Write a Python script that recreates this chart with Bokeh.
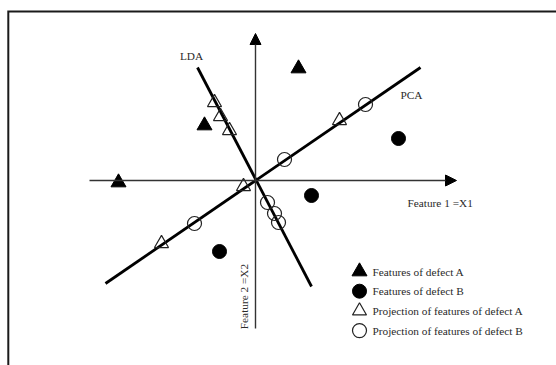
from bokeh.plotting import figure
from bokeh.models import Range1d, Arrow, NormalHead
from bokeh.core.properties import value
from bokeh.embed import file_html
from bokeh.resources import INLINE
import math

# ---- data (schematic feature space, origin at axes crossing) ----
featA_x = [4.3, -5.1, -13.7]
featA_y = [11.2, 5.5, -0.2]
featB_x = [14.3, 5.6, -3.6]
featB_y = [4.2, -1.5, -7.1]
projA_x = [-4.1, -3.5, -2.6, 8.4, -1.2, -9.4]
projA_y = [7.8, 6.4, 5.0, 6.0, -0.6, -6.3]
projB_x = [11.0, 2.9, -6.1, 1.2, 1.9, 2.3]
projB_y = [7.6, 2.1, -4.3, -2.2, -3.3, -4.2]
lda_x = [-5.8, 5.6]
lda_y = [11.3, -10.6]
pca_x = [-15.0, 16.5]
pca_y = [-10.3, 11.3]
legend_labels = ["Features of defect A", "Features of defect B",
                 "Projection of features of defect A", "Projection of features of defect B"]

SERIF = value("Liberation Serif")
TXT = "#2a2a2a"
FS = "11.3px"

X_LO, X_HI, Y_LO, Y_HI = -25.5, 30.1, -18.5, 18.0
p = figure(width=556, height=365, output_backend="svg", toolbar_location=None,
           x_range=Range1d(X_LO, X_HI), y_range=Range1d(Y_LO, Y_HI),
           min_border=0, outline_line_color=None)
p.axis.visible = False
p.grid.visible = False
p.background_fill_color = "white"
p.border_fill_color = "white"

# frame (left and top only, clean corner)
FL, FT = -24.72, 16.9
p.line([FL, FL, X_HI + 1], [Y_LO - 1, FT, FT], line_color="#1a1a1a", line_width=2,
       line_join="miter")

# feature axes with arrows
p.add_layout(Arrow(end=NormalHead(size=11, fill_color="black", line_color="black"),
                   x_start=-16.6, y_start=0, x_end=20.1, y_end=0,
                   line_color="#333333", line_width=1.4))
p.add_layout(Arrow(end=NormalHead(size=11, fill_color="black", line_color="black"),
                   x_start=0, y_start=-14.8, x_end=0, y_end=14.7,
                   line_color="#333333", line_width=1.4))

# LDA and PCA directions
p.line(lda_x, lda_y, line_color="black", line_width=2.8)
p.line(pca_x, pca_y, line_color="black", line_width=2.8)

# points
p.scatter(featA_x, featA_y, marker="triangle", size=15, fill_color="black", line_color="black")
p.scatter(featB_x, featB_y, marker="circle", size=14, fill_color="black", line_color="black")
p.scatter(projA_x, projA_y, marker="triangle", size=14, fill_alpha=0.0,
          line_color="#222222", line_width=1.2)
p.scatter(projB_x, projB_y, marker="circle", size=14, fill_alpha=0.0,
          line_color="#222222", line_width=1.2)

# labels
p.text(x=[-6.4], y=[12.5], text=["LDA"], text_font=SERIF, text_font_size=FS,
       text_color=TXT, text_align="center", text_baseline="middle")
p.text(x=[15.6], y=[8.6], text=["PCA"], text_font=SERIF, text_font_size=FS,
       text_color=TXT, text_align="center", text_baseline="middle")
p.text(x=[15.2], y=[-2.2], text=["Feature 1 =X1"], text_font=SERIF, text_font_size=FS,
       text_color=TXT, text_align="left", text_baseline="middle")
p.text(x=[-1.2], y=[-11.6], text=["Feature 2 =X2"], text_font=SERIF, text_font_size=FS,
       text_color=TXT, text_align="center", text_baseline="middle", angle=math.pi / 2)

# legend (manual)
lx, ly0, dy = 10.4, -9.1, -1.97
ly = [ly0 + i * dy for i in range(4)]
p.scatter([lx], [ly[0]], marker="triangle", size=15, fill_color="black", line_color="black")
p.scatter([lx], [ly[1]], marker="circle", size=14, fill_color="black", line_color="black")
p.scatter([lx], [ly[2]], marker="triangle", size=14, fill_alpha=0.0, line_color="#222222", line_width=1.2)
p.scatter([lx], [ly[3]], marker="circle", size=14, fill_alpha=0.0, line_color="#222222", line_width=1.2)
p.text(x=[lx + 1.3] * 4, y=ly, text=legend_labels, text_font=SERIF, text_font_size=FS,
       text_color=TXT, text_align="left", text_baseline="middle")

open("out.html", "w").write(file_html(p, INLINE))
